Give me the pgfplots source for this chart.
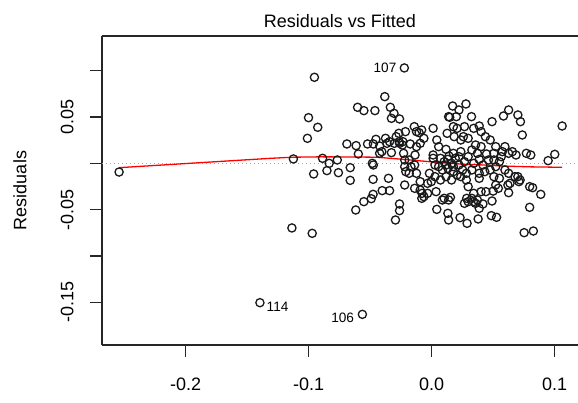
\documentclass[border=0pt]{standalone}
\usepackage{fontspec}
\setmainfont{Liberation Sans}
\usepackage{pgfplots}
\pgfplotsset{compat=1.18}
\usetikzlibrary{calc}

\newcommand\rfont{\fontsize{9}{10.8}\selectfont}

\begin{document}
\begin{tikzpicture}
\begin{axis}[
  name=ax,
  scale only axis,
  width=238pt, height=154.5pt,
  xmin=-0.268, xmax=0.119,
  ymin=-0.1962, ymax=0.1375,
  axis x line*=bottom, axis y line*=left,
  axis line style={-, black!85, line width=0.6pt},
  tick align=outside,
  major tick length=6pt,
  tick style={black!85, line width=0.6pt},
  xtick={-0.2,-0.1,0,0.1},
  xticklabels={-0.2,-0.1,0.0,0.1},
  ytick={-0.15,-0.1,-0.05,0,0.05,0.1},
  yticklabels={-0.15,,-0.05,,0.05,},
  xticklabel style={font=\rfont, anchor=north, inner sep=0pt},
  yticklabel style={font=\rfont, rotate=90, anchor=south, inner sep=0pt},
  xticklabel shift=10.5pt,
  yticklabel shift=8pt,
  clip=false,
]
% zero reference
\addplot[gray!70, line width=0.5pt, dash pattern=on 0.5pt off 1.5pt] coordinates {(-0.268,0) (0.119,0)};

% residuals
\addplot[only marks, mark=o, mark size=2.05pt, mark options={black!90, line width=0.65pt}] coordinates {
(-0.2541,-0.0094) (-0.1396,-0.1505) (-0.0563,-0.1631) (-0.0222,0.1030)
(-0.0953,0.0929) (-0.1001,0.0493) (-0.0926,0.0389) (-0.1010,0.0270)
(-0.1124,0.0047) (-0.0959,-0.0115) (-0.1136,-0.0698) (-0.0971,-0.0756)
(-0.0887,0.0054) (-0.0833,0.0000) (-0.0851,-0.0079) (-0.0767,0.0036)
(-0.0758,-0.0101) (-0.0689,0.0209) (-0.0662,-0.0047) (-0.0662,-0.0184)
(-0.0614,0.0191) (-0.0596,0.0101) (-0.0602,0.0605) (-0.0551,0.0569)
(-0.0461,0.0569) (-0.0381,0.0720) (-0.0336,0.0605) (-0.0306,0.0540)
(-0.0261,0.0479) (-0.0327,0.0486) (-0.0521,0.0209) (-0.0474,0.0209)
(-0.0482,0.0000) (-0.0474,-0.0018) (-0.0476,-0.0173) (-0.0617,-0.0504)
(-0.0551,-0.0414) (-0.0491,-0.0382) (-0.0476,-0.0335) (-0.0402,-0.0295)
(-0.0342,-0.0295) (-0.0351,-0.0162) (-0.0261,-0.0439) (-0.0261,-0.0511)
(-0.0294,-0.0612) (-0.0423,0.0187) (-0.0423,0.0108) (-0.0375,0.0270)
(-0.0342,0.0234) (-0.0327,0.0115) (-0.0267,0.0324) (-0.0261,0.0216)
(-0.0237,0.0198) (-0.0228,0.0108) (-0.0219,-0.0036) (-0.0210,-0.0090)
(-0.0219,-0.0234) (-0.0174,0.0209) (-0.0141,0.0396) (-0.0123,0.0342)
(-0.0102,0.0331) (-0.0081,0.0360) (-0.0135,0.0090) (-0.0138,-0.0018)
(-0.0183,-0.0108) (-0.0123,-0.0108) (-0.0093,-0.0198) (-0.0138,-0.0270)
(-0.0093,-0.0288) (-0.0063,-0.0360) (-0.0080,-0.0378) (-0.0063,0.0270)
(0.0012,0.0378) (0.0012,0.0090) (-0.0018,-0.0108) (0.0042,0.0252)
(0.0036,-0.0306) (0.0042,-0.0497) (0.0087,-0.0396) (0.0138,-0.0396)
(0.0153,-0.0367) (0.0132,-0.0540) (0.0138,-0.0612) (0.0231,-0.0587)
(0.0288,-0.0648) (0.0378,-0.0601) (0.0485,-0.0565) (0.0528,-0.0583)
(0.0171,0.0619) (0.0222,0.0576) (0.0279,0.0641) (0.0138,0.0504)
(0.0147,0.0497) (0.0324,0.0504) (0.0491,0.0450) (0.0584,0.0511)
(0.0626,0.0576) (0.0701,0.0522) (0.0722,0.0450) (0.0737,0.0306)
(0.1061,0.0403) (0.1001,0.0097) (0.0947,0.0029) (0.0806,0.0090)
(0.0770,0.0108) (0.0887,-0.0335) (0.0821,-0.0263) (0.0797,-0.0252)
(0.0797,-0.0475) (0.0752,-0.0749) (0.0827,-0.0731) (0.0710,-0.0198)
(0.0677,-0.0144) (0.0626,-0.0317) (0.0620,-0.0234) (0.0542,-0.0270)
(0.0521,-0.0234) (0.0491,-0.0407) (0.0506,-0.0144) (0.0521,-0.0036)
(0.0596,0.0180) (0.0575,0.0126) (0.0656,0.0126) (0.0686,0.0090)
(0.0566,0.0072) (0.0476,0.0252) (0.0437,0.0288) (0.0387,0.0403)
(0.0402,0.0342) (0.0342,0.0378) (0.0267,0.0396) (0.0207,0.0378)
(0.0183,0.0288) (0.0258,0.0288) (0.0297,0.0270) (0.0126,0.0324)
(0.0057,0.0180) (0.0117,0.0151) (0.0177,0.0108) (0.0237,0.0126)
(0.0327,0.0144) (0.0372,0.0108) (0.0446,0.0101) (0.0402,0.0180)
(0.0357,0.0198) (0.0072,0.0054) (0.0102,0.0018) (0.0132,0.0043)
(0.0162,0.0000) (0.0192,0.0054) (0.0222,-0.0018) (0.0267,0.0018)
(0.0297,0.0072) (0.0342,0.0000) (0.0387,0.0043) (0.0417,-0.0018)
(0.0462,0.0036) (0.0057,-0.0036) (0.0087,-0.0072) (0.0132,-0.0054)
(0.0177,-0.0090) (0.0207,-0.0126) (0.0252,-0.0072) (0.0282,-0.0108)
(0.0327,-0.0072) (0.0387,-0.0108) (0.0432,-0.0090) (0.0476,-0.0072)
(0.0027,-0.0144) (0.0072,-0.0180) (0.0117,-0.0144) (0.0282,-0.0180)
(0.0297,-0.0252) (0.0387,-0.0162) (0.0402,-0.0306) (0.0441,-0.0306)
(0.0500,-0.0300) (0.0342,-0.0324) (0.0327,-0.0378) (0.0372,-0.0396)
(0.0357,-0.0432) (0.0297,-0.0414) (0.0267,-0.0432) (0.0387,-0.0486)
(0.0417,-0.0439) (-0.0033,-0.0216) (-0.0003,-0.0198) (-0.0033,-0.0324)
(-0.0078,-0.0324) (0.0102,-0.0378) (0.0027,-0.0018) (0.0012,0.0054)
(-0.0183,0.0036) (-0.0219,0.0036) (-0.0168,-0.0036) (-0.0123,0.0180)
(-0.0093,0.0216) (-0.0405,0.0126) (-0.0453,0.0259) (-0.0363,0.0216)
(-0.0303,0.0216) (-0.0288,0.0288) (-0.0264,0.0234) (0.0521,0.0180)
(0.0626,0.0108) (0.0551,0.0018) (0.0506,0.0036) (0.0596,-0.0072)
(0.0626,-0.0108) (0.0701,-0.0144) (0.0551,-0.0162) (0.0201,0.0504)
(0.0177,0.0396) (0.0237,0.0252) (0.0506,0.0108) (0.0141,0.0079)
(0.0222,0.0072) (0.0177,-0.0036) (0.0117,-0.0018) (0.0237,-0.0144)
(0.0162,-0.0180) (-0.0213,0.0342) (-0.0234,0.0234) (0.0637,-0.0216)
(0.0719,-0.0180) (0.0285,-0.0378) (0.0339,-0.0414)
};

% lowess smooth
\addplot[red, line width=0.65pt] coordinates {
(-0.2541,-0.0047) (-0.1310,0.0054) (-0.1130,0.0066) (-0.0900,0.0070)
(-0.0600,0.0068) (-0.0450,0.0066) (-0.0260,0.0046) (-0.0010,0.0017)
(0.0200,-0.0005) (0.0420,-0.0018) (0.0600,-0.0030) (0.0800,-0.0038)
(0.1061,-0.0043)
};

% top border of the box
\draw[black!85, line width=0.6pt] (rel axis cs:0,1) -- (rel axis cs:1,1);

% point ids
\node[font=\fontsize{6.8}{8}\selectfont, anchor=east, inner sep=0pt, xshift=-3.8pt] at (axis cs:-0.0222,0.1030) {107};
\node[font=\fontsize{6.8}{8}\selectfont, anchor=west, inner sep=0pt, xshift=3.2pt, yshift=-2pt] at (axis cs:-0.1396,-0.1505) {114};
\node[font=\fontsize{6.8}{8}\selectfont, anchor=east, inner sep=0pt, xshift=-4pt, yshift=-1.6pt] at (axis cs:-0.0563,-0.1631) {106};
\end{axis}

\node[font=\rfont, anchor=base] at ($(ax.north)+(0,4pt)$) {Residuals vs Fitted};
\node[font=\rfont, rotate=90, anchor=base] at ($(ax.west)+(-37.75pt,0)$) {Residuals};

\pgfresetboundingbox
\path ($(ax.south west)+(-51pt,-28.5pt)$) rectangle ($(ax.north east)+(0,18pt)$);
\end{tikzpicture}
\end{document}
